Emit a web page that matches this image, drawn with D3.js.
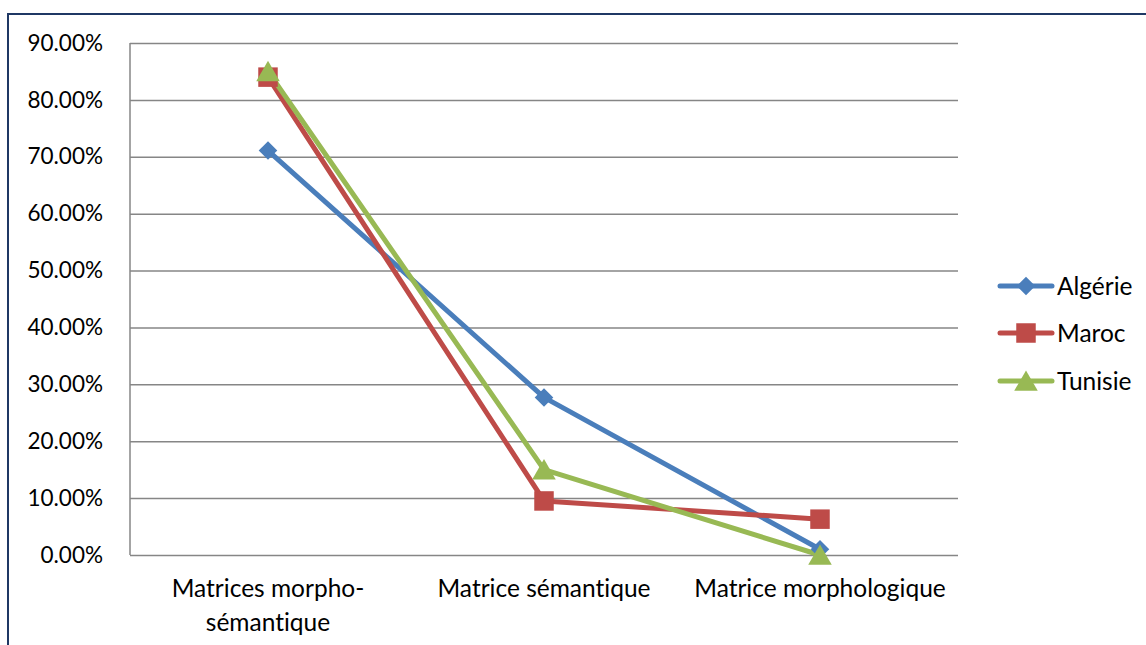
<!DOCTYPE html>
<html>
<head>
<meta charset="utf-8">
<script src="https://cdn.jsdelivr.net/npm/d3@7"></script>
<style>
  html, body { margin: 0; padding: 0; background: #fff; }
  svg { display: block; }
  text { font-family: "Lato", "Open Sans", sans-serif; fill: #000; font-variant-ligatures: none; }
</style>
</head>
<body>
<svg id="chart" width="1146" height="645"></svg>
<script>
// Data
const categories = [["Matrices morpho-", "sémantique"], ["Matrice sémantique"], ["Matrice morphologique"]];
const seriesNames = ["Algérie", "Maroc", "Tunisie"];
const algerie = [0.711, 0.277, 0.010];
const maroc = [0.840, 0.095, 0.063];
const tunisie = [0.850, 0.150, 0.000];
const yTicks = [0, 0.1, 0.2, 0.3, 0.4, 0.5, 0.6, 0.7, 0.8, 0.9];

const colors = ["#4a7ebb", "#be4b48", "#98b954"];
const symbols = [d3.symbolDiamond2, d3.symbolSquare, d3.symbolTriangle];
const symSizes = [220, 380, 240];
// triangle centred on its bounding box rather than its centroid
const symOffset = [0, 0, 3];
const seriesValues = [algerie, maroc, tunisie];

const svg = d3.select("#chart");

// Outer frame
svg.append("path")
  .attr("d", "M8,645 L8,14 L1146,14")
  .attr("fill", "none")
  .attr("stroke", "#1f3864")
  .attr("stroke-width", 2);

const plot = { left: 130, right: 958, top: 43, bottom: 555 };

const x = d3.scaleBand()
  .domain(d3.range(categories.length))
  .range([plot.left, plot.right]);
const y = d3.scaleLinear()
  .domain([0, 0.9])
  .range([plot.bottom, plot.top]);

// Horizontal gridlines and y-axis labels
const yAxis = d3.axisLeft(y)
  .tickValues(yTicks)
  .tickSize(-(plot.right - plot.left))
  .tickPadding(27)
  .tickFormat(d => (d * 100).toFixed(2) + "%");

const gy = svg.append("g")
  .attr("transform", `translate(${plot.left},0)`)
  .call(yAxis);
gy.select(".domain").remove();
gy.selectAll(".tick line")
  .attr("stroke", "#868686")
  .attr("stroke-width", 1.5);
gy.selectAll(".tick text")
  .attr("font-size", 22.5)
  .attr("fill", "#000")
  .style("font-family", "Lato, sans-serif");

// Vertical axis line
svg.append("line")
  .attr("x1", plot.left).attr("x2", plot.left)
  .attr("y1", plot.top).attr("y2", plot.bottom)
  .attr("stroke", "#868686").attr("stroke-width", 1.5);

// Category labels
const cx = i => x(i) + x.bandwidth() / 2;
categories.forEach((lines, i) => {
  const t = svg.append("text")
    .attr("text-anchor", "middle")
    .attr("font-size", 24.5);
  lines.forEach((ln, j) => {
    t.append("tspan")
      .attr("x", cx(i))
      .attr("y", 597 + j * 34)
      .text(ln);
  });
});

// Series lines and markers
const line = d3.line()
  .x((d, i) => cx(i))
  .y(d => y(d));

seriesValues.forEach((vals, s) => {
  svg.append("path")
    .datum(vals)
    .attr("d", line)
    .attr("fill", "none")
    .attr("stroke", colors[s])
    .attr("stroke-width", 5)
    .attr("stroke-linejoin", "round")
    .attr("stroke-linecap", "round");
});
seriesValues.forEach((vals, s) => {
  svg.append("g").selectAll("path")
    .data(vals)
    .join("path")
    .attr("d", d3.symbol().type(symbols[s]).size(symSizes[s]))
    .attr("transform", (d, i) => `translate(${cx(i)},${y(d) + symOffset[s]})`)
    .attr("fill", colors[s]);
});

// Legend
const legend = svg.append("g");
const legendY = [286, 333, 381];
seriesNames.forEach((name, s) => {
  const g = legend.append("g").attr("transform", `translate(0,${legendY[s]})`);
  g.append("line")
    .attr("x1", 1000).attr("x2", 1052)
    .attr("y1", 0).attr("y2", 0)
    .attr("stroke", colors[s]).attr("stroke-width", 5)
    .attr("stroke-linecap", "round");
  g.append("path")
    .attr("d", d3.symbol().type(symbols[s]).size(symSizes[s]))
    .attr("transform", `translate(1026,${symOffset[s]})`)
    .attr("fill", colors[s]);
  g.append("text")
    .attr("x", 1057)
    .attr("y", 0)
    .attr("dy", "0.36em")
    .attr("font-size", 24.5)
    .text(name);
});
</script>
</body>
</html>
